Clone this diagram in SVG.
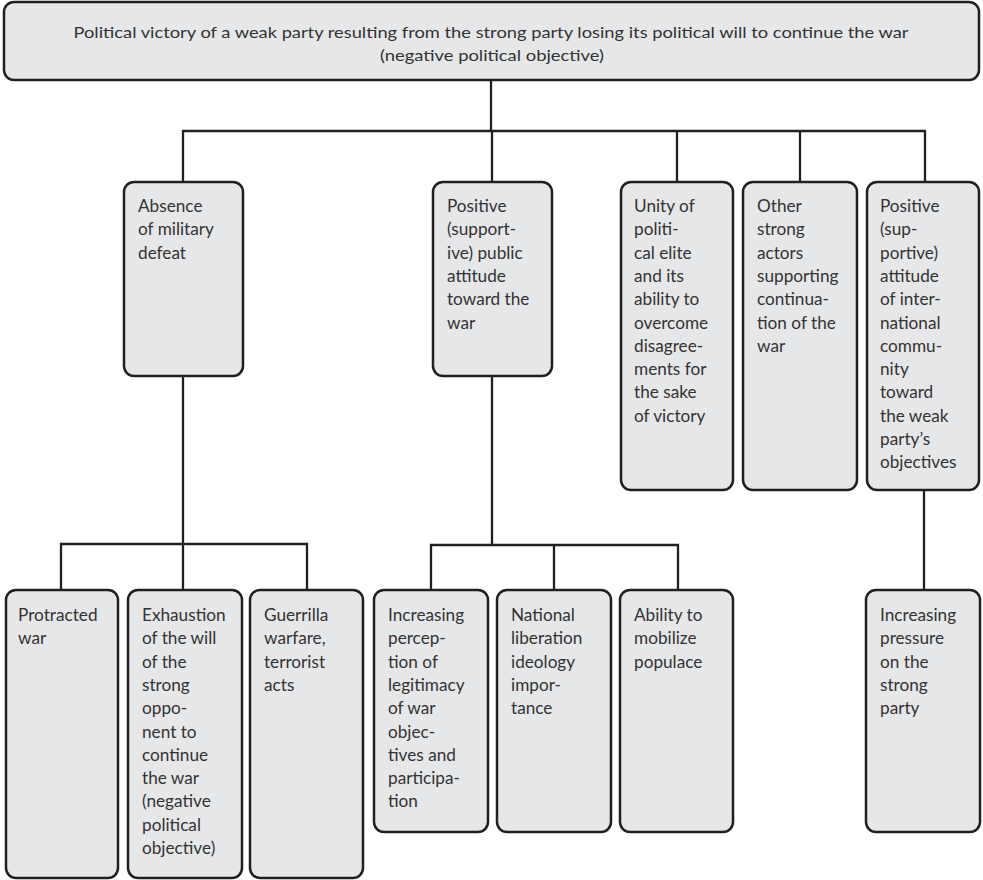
<svg xmlns="http://www.w3.org/2000/svg" width="983" height="880" viewBox="0 0 983 880">
<style>
.box{fill:#e6e7e8;stroke:#231f20;stroke-width:2.5}
.t{font-family:Lato,"Open Sans","Liberation Sans",sans-serif;font-size:17.2px;fill:#333333}
.tt{font-family:Lato,"Open Sans","Liberation Sans",sans-serif;font-size:15px;fill:#333333}
.c{fill:none;stroke:#231f20;stroke-width:2.3}
</style>
<rect width="983" height="880" fill="#ffffff"/>
<g id="connectors">
<path class="c" d="M491,80 V131"/>
<path class="c" d="M183,182 V131 H925 V182"/>
<path class="c" d="M492,131 V182 M677,131 V182 M800,131 V182"/>
<path class="c" d="M183,376 V590"/>
<path class="c" d="M61,590 V544 H307 V590"/>
<path class="c" d="M492,376 V545"/>
<path class="c" d="M431,590 V545 H678 V590 M554,545 V590"/>
<path class="c" d="M924,490 V590"/>
</g>
<g id="top">
<rect class="box" x="4" y="2" width="975" height="78" rx="10"/>
<text class="tt" x="491" y="38" text-anchor="middle" textLength="835" lengthAdjust="spacingAndGlyphs">Political victory of a weak party resulting from the strong party losing its political will to continue the war</text>
<text class="tt" x="492" y="61" text-anchor="middle" textLength="224" lengthAdjust="spacingAndGlyphs">(negative political objective)</text>
</g>
<g id="absence">
<rect class="box" x="124" y="182" width="119" height="194" rx="10"/>
<text class="t" x="138" y="212"><tspan x="138">Absence</tspan><tspan x="138" dy="23.3">of military</tspan><tspan x="138" dy="23.3">defeat</tspan></text>
</g>
<g id="public">
<rect class="box" x="433" y="182" width="119" height="194" rx="10"/>
<text class="t" x="447" y="212"><tspan x="447">Positive</tspan><tspan x="447" dy="23.3">(support-</tspan><tspan x="447" dy="23.3">ive) public</tspan><tspan x="447" dy="23.3">attitude</tspan><tspan x="447" dy="23.3">toward the</tspan><tspan x="447" dy="23.3">war</tspan></text>
</g>
<g id="unity">
<rect class="box" x="621" y="182" width="112" height="308" rx="10"/>
<text class="t" x="634" y="212"><tspan x="634">Unity of</tspan><tspan x="634" dy="23.3">politi-</tspan><tspan x="634" dy="23.3">cal elite</tspan><tspan x="634" dy="23.3">and its</tspan><tspan x="634" dy="23.3">ability to</tspan><tspan x="634" dy="23.3">overcome</tspan><tspan x="634" dy="23.3">disagree-</tspan><tspan x="634" dy="23.3">ments for</tspan><tspan x="634" dy="23.3">the sake</tspan><tspan x="634" dy="23.3">of victory</tspan></text>
</g>
<g id="other">
<rect class="box" x="743" y="182" width="114" height="308" rx="10"/>
<text class="t" x="757" y="212"><tspan x="757">Other</tspan><tspan x="757" dy="23.3">strong</tspan><tspan x="757" dy="23.3">actors</tspan><tspan x="757" dy="23.3">supporting</tspan><tspan x="757" dy="23.3">continua-</tspan><tspan x="757" dy="23.3">tion of the</tspan><tspan x="757" dy="23.3">war</tspan></text>
</g>
<g id="international">
<rect class="box" x="867" y="182" width="112" height="308" rx="10"/>
<text class="t" x="880" y="212"><tspan x="880">Positive</tspan><tspan x="880" dy="23.3">(sup-</tspan><tspan x="880" dy="23.3">portive)</tspan><tspan x="880" dy="23.3">attitude</tspan><tspan x="880" dy="23.3">of inter-</tspan><tspan x="880" dy="23.3">national</tspan><tspan x="880" dy="23.3">commu-</tspan><tspan x="880" dy="23.3">nity</tspan><tspan x="880" dy="23.3">toward</tspan><tspan x="880" dy="23.3">the weak</tspan><tspan x="880" dy="23.3">party’s</tspan><tspan x="880" dy="23.3">objectives</tspan></text>
</g>
<g id="protracted">
<rect class="box" x="6" y="590" width="112" height="288" rx="10"/>
<text class="t" x="18" y="621"><tspan x="18">Protracted</tspan><tspan x="18" dy="23.3">war</tspan></text>
</g>
<g id="exhaustion">
<rect class="box" x="128" y="590" width="114" height="288" rx="10"/>
<text class="t" x="142" y="621"><tspan x="142">Exhaustion</tspan><tspan x="142" dy="23.3">of the will</tspan><tspan x="142" dy="23.3">of the</tspan><tspan x="142" dy="23.3">strong</tspan><tspan x="142" dy="23.3">oppo-</tspan><tspan x="142" dy="23.3">nent to</tspan><tspan x="142" dy="23.3">continue</tspan><tspan x="142" dy="23.3">the war</tspan><tspan x="142" dy="23.3">(negative</tspan><tspan x="142" dy="23.3">political</tspan><tspan x="142" dy="23.3">objective)</tspan></text>
</g>
<g id="guerrilla">
<rect class="box" x="250" y="590" width="113" height="288" rx="10"/>
<text class="t" x="264" y="621"><tspan x="264">Guerrilla</tspan><tspan x="264" dy="23.3">warfare,</tspan><tspan x="264" dy="23.3">terrorist</tspan><tspan x="264" dy="23.3">acts</tspan></text>
</g>
<g id="legitimacy">
<rect class="box" x="374" y="590" width="114" height="242" rx="10"/>
<text class="t" x="388" y="621"><tspan x="388">Increasing</tspan><tspan x="388" dy="23.3">percep-</tspan><tspan x="388" dy="23.3">tion of</tspan><tspan x="388" dy="23.3">legitimacy</tspan><tspan x="388" dy="23.3">of war</tspan><tspan x="388" dy="23.3">objec-</tspan><tspan x="388" dy="23.3">tives and</tspan><tspan x="388" dy="23.3">participa-</tspan><tspan x="388" dy="23.3">tion</tspan></text>
</g>
<g id="national">
<rect class="box" x="497" y="590" width="114" height="242" rx="10"/>
<text class="t" x="511" y="621"><tspan x="511">National</tspan><tspan x="511" dy="23.3">liberation</tspan><tspan x="511" dy="23.3">ideology</tspan><tspan x="511" dy="23.3">impor-</tspan><tspan x="511" dy="23.3">tance</tspan></text>
</g>
<g id="ability">
<rect class="box" x="620" y="590" width="113" height="242" rx="10"/>
<text class="t" x="634" y="621"><tspan x="634">Ability to</tspan><tspan x="634" dy="23.3">mobilize</tspan><tspan x="634" dy="23.3">populace</tspan></text>
</g>
<g id="pressure">
<rect class="box" x="866" y="590" width="114" height="242" rx="10"/>
<text class="t" x="880" y="621"><tspan x="880">Increasing</tspan><tspan x="880" dy="23.3">pressure</tspan><tspan x="880" dy="23.3">on the</tspan><tspan x="880" dy="23.3">strong</tspan><tspan x="880" dy="23.3">party</tspan></text>
</g>
</svg>
